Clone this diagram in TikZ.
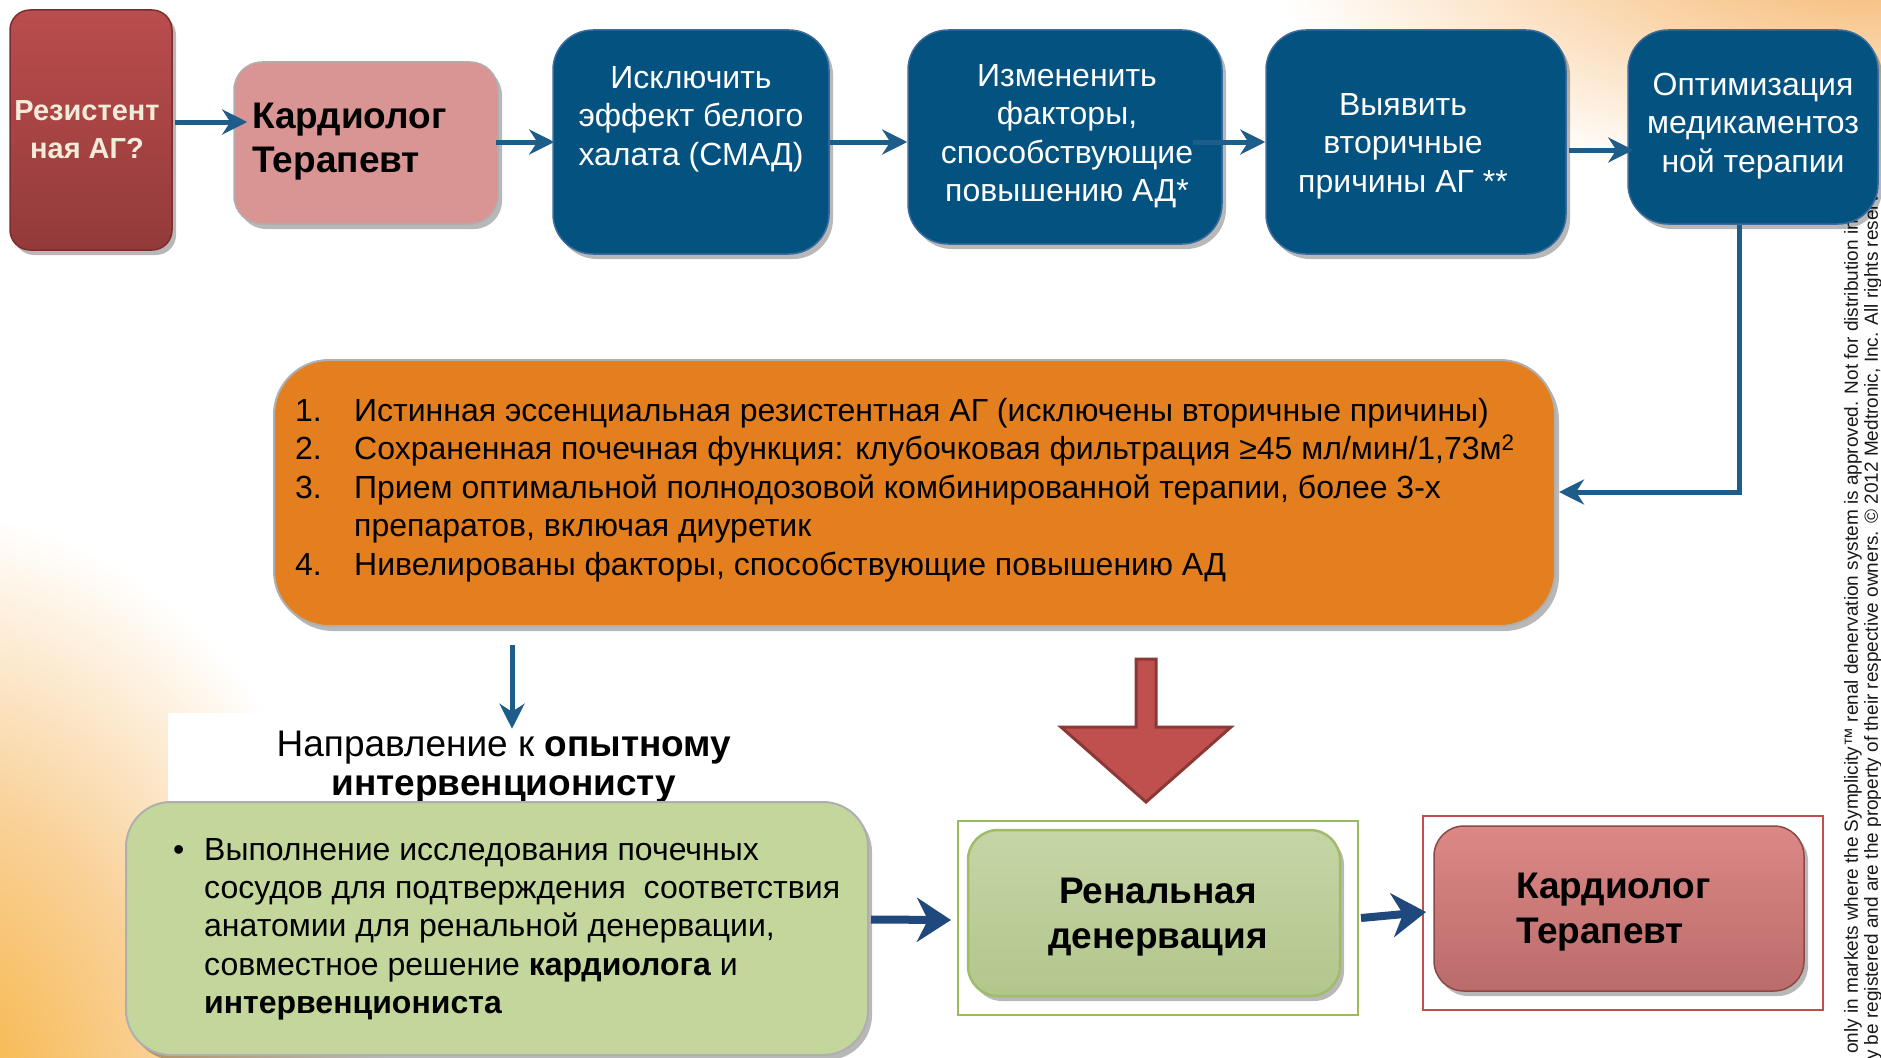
\documentclass[tikz,border=0pt]{standalone}
\usepackage{fontspec}
\setmainfont{Liberation Sans}
\usetikzlibrary{arrows.meta,calc,shadows}

\definecolor{boxblue}{RGB}{4,82,128}
\definecolor{boxblueedge}{RGB}{58,108,158}
\definecolor{arrowblue}{RGB}{30,92,138}
\definecolor{darkarrow}{RGB}{31,73,125}
\definecolor{orangefill}{RGB}{227,127,31}
\definecolor{pinkfill}{RGB}{217,149,148}
\definecolor{greenfill}{RGB}{195,214,155}
\definecolor{greyedge}{RGB}{175,175,175}
\definecolor{redtop}{RGB}{186,77,77}
\definecolor{redmid}{RGB}{169,67,67}
\definecolor{redbot}{RGB}{148,58,58}
\definecolor{rededge}{RGB}{125,45,45}
\definecolor{creamtext}{RGB}{243,235,217}
\definecolor{renaltop}{RGB}{198,213,166}
\definecolor{renalmid}{RGB}{191,207,158}
\definecolor{renalbot}{RGB}{178,198,140}
\definecolor{renaledge}{RGB}{160,188,105}
\definecolor{renalouter}{RGB}{155,187,89}
\definecolor{cardtop}{RGB}{220,136,134}
\definecolor{cardmid}{RGB}{204,122,120}
\definecolor{cardbot}{RGB}{186,108,106}
\definecolor{cardedge}{RGB}{140,72,70}
\definecolor{cardouter}{RGB}{192,80,77}
\definecolor{bigred}{RGB}{192,80,77}
\definecolor{bigrededge}{RGB}{140,56,54}
\definecolor{glowA}{RGB}{246,176,52}
\definecolor{glowB}{RGB}{249,208,150}
\definecolor{glowC}{RGB}{245,176,100}
\definecolor{glowD}{RGB}{250,214,172}

% soft glows in the corners of the slide (the path box maps to the inner 25bp radius)
\pgfdeclareradialshading{glowleft}{\pgfpointorigin}{color(0bp)=(glowA); color(13bp)=(glowB); color(25bp)=(white); color(50bp)=(white)}
\pgfdeclareradialshading{glowtop}{\pgfpointorigin}{color(0bp)=(glowC); color(12bp)=(glowD); color(25bp)=(white); color(50bp)=(white)}

\begin{document}
\begin{tikzpicture}[x=1pt,y=-1pt,
  shadowed/.style={drop shadow={shadow xshift=4pt, shadow yshift=-5pt, opacity=0.28, fill=black}},
  redbox/.style={shadowed, rounded corners=20pt, top color=redtop, middle color=redmid, bottom color=redbot, draw=rededge, line width=1.5pt},
  pinkbox/.style={shadowed, rounded corners=28pt, fill=pinkfill, draw=greyedge, line width=1.5pt},
  bluebox/.style={shadowed, rounded corners=40pt, fill=boxblue, draw=boxblueedge, line width=1.5pt},
  orangebox/.style={shadowed, rounded corners=55pt, fill=orangefill, draw=greyedge, line width=2pt},
  greenbox/.style={shadowed, rounded corners=45pt, fill=greenfill, draw=greyedge, line width=2pt},
  renalbox/.style={shadowed, rounded corners=30pt, top color=renaltop, middle color=renalmid, bottom color=renalbot, draw=renaledge, line width=2.5pt},
  cardbox/.style={shadowed, rounded corners=30pt, top color=cardtop, middle color=cardmid, bottom color=cardbot, draw=cardedge, line width=1.5pt},
  frameline/.style={line width=2pt, inner sep=0pt},
  bluetext/.style={text=white, align=center, inner sep=0pt, font=\fontsize{32}{38.5}\selectfont},
  listtext/.style={text=black, align=left, inner sep=0pt, font=\fontsize{32}{38.5}\selectfont},
  boldbig/.style={text=black, inner sep=0pt, font=\bfseries\fontsize{37}{45}\selectfont},
  footer/.style={text=black!90, inner sep=0pt, font=\fontsize{19}{22}\selectfont},
  toparrow/.style={draw=arrowblue, line width=5pt, -{Stealth[length=25pt, width=25pt, inset=8pt]}},
  bigarrow/.style={draw=darkarrow, line width=8pt, -{Stealth[length=34pt, width=44pt, inset=11pt]}}
]
\useasboundingbox (0,0) rectangle (1881,1057);
\fill[white] (0,0) rectangle (1881,1057);
\shade[shading=glowleft] (-80,1120) ellipse [x radius=470pt, y radius=610pt];
\shade[shading=glowtop] (1881,-60) ellipse [x radius=620pt, y radius=250pt];
\fill[white] (168,713) rectangle (880,802);

% legal line along the right edge
\node[footer, rotate=90, anchor=west] (F1) at (1853,1054) {only in markets where the Symplicity™ renal denervation system is approved. Not for distribution in t};
\node[footer, rotate=90, anchor=west] (F2) at (1873,1060) {y be registered and are the property of their respective owners. © 2012 Medtronic, Inc. All rights reserv};

% top row
\node[redbox, minimum width=162pt, minimum height=240pt] (R1) at (91,130) {};
\node[text=creamtext, align=center, inner sep=0pt, font=\bfseries\fontsize{29}{38}\selectfont] (R1t) at (87,130) {Резистент\\ная АГ?};

\node[pinkbox, minimum width=264pt, minimum height=162pt] (P1) at (366,143) {};
\node[boldbig, align=left, anchor=west, font=\bfseries\fontsize{37}{44}\selectfont] (P1t) at (252,142) {Кардиолог\\Терапевт};

\node[bluebox, minimum width=276pt, minimum height=224pt] (B1) at (691,142) {};
\node[bluetext] (B1t) at (691,119) {Исключить\\эффект белого\\халата (СМАД)};

\node[bluebox, minimum width=314pt, minimum height=214pt] (B2) at (1065,137) {};
\node[bluetext] (B2t) at (1067,136) {Измененить\\факторы,\\способствующие\\повышению АД*};

\node[bluebox, minimum width=300pt, minimum height=224pt] (B3) at (1416,142) {};
\node[bluetext] (B3t) at (1403,146) {Выявить\\вторичные\\причины АГ **};

\node[bluebox, minimum width=250pt, minimum height=194pt] (B4) at (1753,127) {};
\node[bluetext] (B4t) at (1753,126) {Оптимизация\\медикаментоз\\ной терапии};

% criteria box
\node[orangebox, minimum width=1281pt, minimum height=266pt] (O) at (914.5,493) {};
\node[listtext, anchor=west] (Ot) at (295,490) {%
\makebox[59pt][l]{1.}Истинная эссенциальная резистентная АГ (исключены вторичные причины)\\
\makebox[59pt][l]{2.}Сохраненная почечная функция: клубочковая фильтрация ≥45 мл/мин/1,73м\textsuperscript{2}\\
\makebox[59pt][l]{3.}Прием оптимальной полнодозовой комбинированной терапии, более 3-х\\
\hspace*{59pt}препаратов, включая диуретик\\
\makebox[59pt][l]{4.}Нивелированы факторы, способствующие повышению АД};

% referral
\node[text=black, align=center, inner sep=0pt, font=\fontsize{37}{39}\selectfont] (T) at (504,767) {Направление к \textbf{опытному}\\\textbf{интервенционисту}};

\node[greenbox, minimum width=742pt, minimum height=253pt] (G) at (497,928.5) {};
\node[listtext, anchor=west, font=\fontsize{32}{38.3}\selectfont] (Gt) at (173,929) {%
\makebox[31pt][l]{•}Выполнение исследования почечных\\
\hspace*{31pt}сосудов для подтверждения\ \ соответствия\\
\hspace*{31pt}анатомии для ренальной денервации,\\
\hspace*{31pt}совместное решение \textbf{кардиолога} и\\
\hspace*{31pt}\textbf{интервенциониста}};

% renal denervation
\node[frameline, draw=renalouter, minimum width=400pt, minimum height=194pt] (RO) at (1158,918) {};
\node[renalbox, minimum width=372pt, minimum height=166pt] (RI) at (1154,913) {};
\node[boldbig, align=center] (RIt) at (1158,917) {Ренальная\\денервация};

% follow-up
\node[frameline, draw=cardouter, minimum width=400pt, minimum height=194pt] (CO) at (1623,913) {};
\node[cardbox, minimum width=370pt, minimum height=165pt] (CI) at (1619,908.5) {};
\node[boldbig, align=left, anchor=west] (CIt) at (1516,912) {Кардиолог\\Терапевт};

% big block arrow into the renal denervation step
\draw[fill=bigred, draw=bigrededge, line width=3pt, line join=miter]
  (1136,659) -- (1156,659) -- (1156,727) -- (1231,727) -- (1146,802) -- (1061,727) -- (1136,727) -- cycle;

% connectors
\draw[toparrow] ($(R1.east)+(2,-8)$) -- ($(P1.west)+(14,-21)$);
\draw[toparrow] ($(P1.east)+(-3,-1)$) -- ($(P1.east -| B1.west)+(2,-1)$);
\draw[toparrow] (B1.east) -- (B1.east -| B2.west);
\draw[toparrow] ($(B3.west -| B2.east)+(-30,0)$) -- (B3.west);
\draw[toparrow] ($(B3.east)+(2,8)$) -- ($(B3.east -| B4.west)+(6,8)$);
\draw[toparrow] ($(B4.south)+(-14,0)$) |- ($(O.east)+(3,-1)$);
\draw[toparrow] ($(O.south -| T.north)+(8,18)$) -- ($(T.north)+(8,-2)$);
\draw[bigarrow] ($(G.east)+(2,-9)$) -- ($(RO.west)+(-6,2)$);
\draw[bigarrow] ($(RO.east)+(2,0)$) -- ($(CO.west)+(4,-1)$);
\end{tikzpicture}
\end{document}
